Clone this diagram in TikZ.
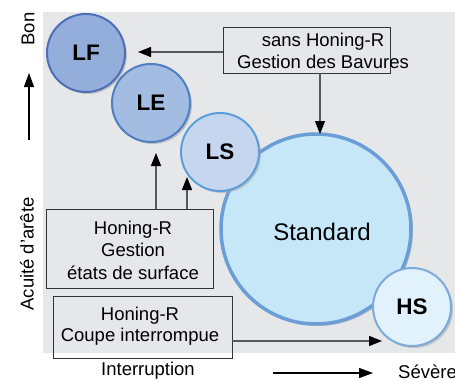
\documentclass[tikz,border=0pt]{standalone}
\usepackage{fontspec}
\setmainfont{Liberation Sans}
\usetikzlibrary{shadows,arrows.meta}
\definecolor{bg}{HTML}{E6E7E9}
\definecolor{lffill}{HTML}{94AEDC}
\definecolor{lfline}{HTML}{4D6FB8}
\definecolor{lefill}{HTML}{A3BCE2}
\definecolor{leline}{HTML}{4F7FC3}
\definecolor{lsfill}{HTML}{C7D6EF}
\definecolor{lsline}{HTML}{5A9FDA}
\definecolor{stfill}{HTML}{C6E7F8}
\definecolor{stline}{HTML}{6B9DD6}
\definecolor{hsfill}{HTML}{E1F2FC}
\definecolor{hsline}{HTML}{7DAAD9}
\begin{document}
\begin{tikzpicture}[x=1pt,y=-1pt,
  txt/.style={font=\fontsize{18.5}{22}\selectfont, align=center, inner sep=0pt},
  circ/.style={circle, inner sep=0pt, minimum size=78pt, line width=2pt,
    drop shadow={shadow xshift=2pt, shadow yshift=-2pt, fill=black!35, opacity=0.6},
    font=\fontsize{22.5}{27}\selectfont\bfseries},
  boxn/.style={draw=black!80, line width=0.9pt, inner sep=0pt},
  arr/.style={draw=black!65, line width=1.1pt, -{Triangle[length=13pt,width=10pt,color=black]}},
  axarr/.style={draw=black, line width=1.1pt, -{Triangle[length=14pt,width=10pt]}}
]
\useasboundingbox (0,0) rectangle (455,380);
\fill[bg] (43,12) rectangle (455,353);

% circles
\node[circ, fill=stfill, draw=stline, line width=3.5pt, minimum size=190pt] (std) at (316,229) {};
\node[txt, font=\fontsize{24}{28}\selectfont] (stdtxt) at (322,232) {Standard};
\node[circ, fill=lffill, draw=lfline] (lf) at (86,53) {LF};
\node[circ, fill=lefill, draw=leline] (le) at (151,103) {LE};
\node[circ, fill=lsfill, draw=lsline] (ls) at (220,152) {LS};
\node[circ, fill=hsfill, draw=hsline] (hs) at (412,307) {HS};

% boxes
\node[boxn, minimum width=167pt, minimum height=46pt] (b1) at (306.5,50) {};
\node[txt] (b1t) at (323,51) {sans Honing-R\\Gestion des Bavures};
\node[boxn, minimum width=167pt, minimum height=79pt] (b2) at (129.5,248.5) {};
\node[txt, font=\fontsize{18.5}{22.5}\selectfont] (b2t) at (133,250) {Honing-R\\Gestion\\états de surface};
\node[boxn, minimum width=179pt, minimum height=62pt] (b3) at (142.5,327) {};
\node[txt, font=\fontsize{18.5}{21}\selectfont] (b3t) at (140,326) {Honing-R\\Coupe interrompue};

% connector end points
\coordinate (tlf) at (138,52);
\coordinate (tst) at (320,134);
\coordinate (tle) at (156,153);
\coordinate (tls) at (187,177);
\coordinate (ths) at (382,341);

\draw[arr] (b1.west |- tlf) -- (tlf);
\draw[arr] (b1.south -| tst) -- (tst);
\draw[arr] (b2.north -| tle) -- (tle);
\draw[arr] (b2.north -| tls) -- (tls);
\draw[arr] (b3.east |- ths) -- (ths);

% axes
\node[txt, rotate=90] (bon) at (28,29) {Bon};
\node[txt, rotate=90] (acu) at (27,254) {Acuité d'arête};
\node[txt] (intr) at (148,371) {Interruption};
\node[txt, anchor=west] (sev) at (398,372) {Sévère};
\coordinate (ua0) at (29,140);
\coordinate (ua1) at (29,73);
\coordinate (ra0) at (273,373);
\coordinate (ra1) at (373,373);
\draw[axarr] (ua0) -- (ua1);
\draw[axarr] (ra0) -- (ra1);
\end{tikzpicture}
\end{document}
